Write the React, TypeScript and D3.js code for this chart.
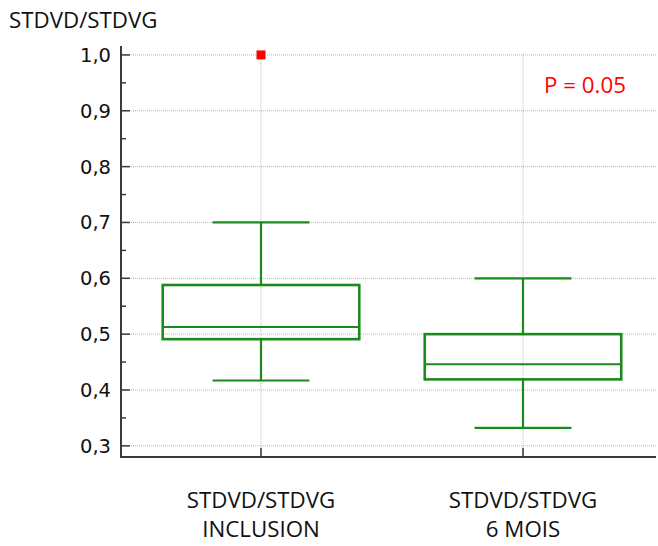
import React from "react";
import * as d3 from "d3";

const categories = ["INCLUSION", "6 MOIS"];
const labelTop = ["STDVD/STDVG", "STDVD/STDVG"];
const whiskerLow = [0.417, 0.332];
const q1 = [0.491, 0.419];
const median = [0.513, 0.446];
const q3 = [0.588, 0.5];
const whiskerHigh = [0.7, 0.6];
const outliers = [[1.0], []];
const yTicks = [0.3, 0.4, 0.5, 0.6, 0.7, 0.8, 0.9, 1.0];
const yMinorTicks = [0.35, 0.45, 0.55, 0.65, 0.75, 0.85, 0.95];
const yTitle = "STDVD/STDVG";
const pText = "P = 0.05";

const W = 658;
const H = 546;
const left = 121;
const right = 656;
const bottom = 457;
const top = 46;

export default function App() {
  const y = d3.scaleLinear().domain([0.28, 1.016]).range([bottom, top]);
  const x = d3.scaleBand().domain(categories).range([130, 654]);
  const bw = x.bandwidth();
  const boxW = bw * 0.75;
  const capW = bw * 0.37;
  const green = "#1b8a1b";
  const axisColor = "#3a3a3a";
  const fmt = (v: number) => d3.format(".1f")(v).replace(".", ",");
  const textFont = "'Open Sans', sans-serif";
  const tickFont = "'DejaVu Sans', sans-serif";

  return (
    <svg
      width={W}
      height={H}
      style={{ position: "absolute", left: 0, top: 0, background: "#fff" }}
    >
      <rect x={0} y={0} width={W} height={H} fill="#fff" />
      {yTicks.map((t) => (
        <line
          key={"g" + t}
          x1={left}
          x2={right}
          y1={y(t)}
          y2={y(t)}
          stroke="#b8b8b8"
          strokeWidth={1}
          strokeDasharray="1,1"
        />
      ))}
      {categories.map((c) => {
        const cx = (x(c) as number) + bw / 2;
        return (
          <line
            key={"vg" + c}
            x1={cx}
            x2={cx}
            y1={y(1.0)}
            y2={bottom}
            stroke="#b8b8b8"
            strokeWidth={1}
            strokeDasharray="1,1"
          />
        );
      })}
      <line x1={left} x2={left} y1={top} y2={bottom + 1} stroke={axisColor} strokeWidth={2} />
      <line x1={left - 1} x2={right} y1={bottom} y2={bottom} stroke={axisColor} strokeWidth={2} />
      {yTicks.map((t) => (
        <g key={"t" + t}>
          <line x1={left} x2={left + 9} y1={y(t)} y2={y(t)} stroke={axisColor} strokeWidth={1.5} />
          <text
            x={111}
            y={y(t)}
            dy="0.36em"
            textAnchor="end"
            fontFamily={tickFont}
            fontSize={19.5}
            fill="#111"
          >
            {fmt(t)}
          </text>
        </g>
      ))}
      {yMinorTicks.map((t) => (
        <line key={"m" + t} x1={left} x2={left + 5} y1={y(t)} y2={y(t)} stroke={axisColor} strokeWidth={1.5} />
      ))}
      {categories.map((c) => {
        const cx = (x(c) as number) + bw / 2;
        return (
          <line key={"xt" + c} x1={cx} x2={cx} y1={bottom} y2={bottom - 9} stroke={axisColor} strokeWidth={1.5} />
        );
      })}
      {categories.map((c, i) => {
        const cx = (x(c) as number) + bw / 2;
        return (
          <g key={"b" + c} stroke={green} fill="none">
            <line x1={cx} x2={cx} y1={y(whiskerHigh[i])} y2={y(q3[i])} strokeWidth={2.2} />
            <line x1={cx} x2={cx} y1={y(q1[i])} y2={y(whiskerLow[i])} strokeWidth={2.2} />
            <line x1={cx - capW / 2} x2={cx + capW / 2} y1={y(whiskerHigh[i])} y2={y(whiskerHigh[i])} strokeWidth={2.2} />
            <line x1={cx - capW / 2} x2={cx + capW / 2} y1={y(whiskerLow[i])} y2={y(whiskerLow[i])} strokeWidth={2.2} />
            <rect
              x={cx - boxW / 2}
              y={y(q3[i])}
              width={boxW}
              height={y(q1[i]) - y(q3[i])}
              strokeWidth={2.6}
            />
            <line x1={cx - boxW / 2} x2={cx + boxW / 2} y1={y(median[i])} y2={y(median[i])} strokeWidth={2} />
            {outliers[i].map((o, j) => (
              <rect key={j} x={cx - 4.5} y={y(o) - 4.5} width={9} height={9} fill="#ff0000" stroke="none" />
            ))}
          </g>
        );
      })}
      {categories.map((c, i) => {
        const cx = (x(c) as number) + bw / 2;
        return (
          <text key={"xl" + c} x={cx} textAnchor="middle" fontFamily={textFont} fontSize={22.3} fill="#111">
            <tspan x={cx} y={508}>{labelTop[i]}</tspan>
            <tspan x={cx} y={537}>{c}</tspan>
          </text>
        );
      })}
      <text x={9} y={28} fontFamily={textFont} fontSize={22.3} fill="#111">
        {yTitle}
      </text>
      <text x={585} y={93} textAnchor="middle" fontFamily={textFont} fontSize={22.3} fill="#ff0000">
        {pText}
      </text>
    </svg>
  );
}
